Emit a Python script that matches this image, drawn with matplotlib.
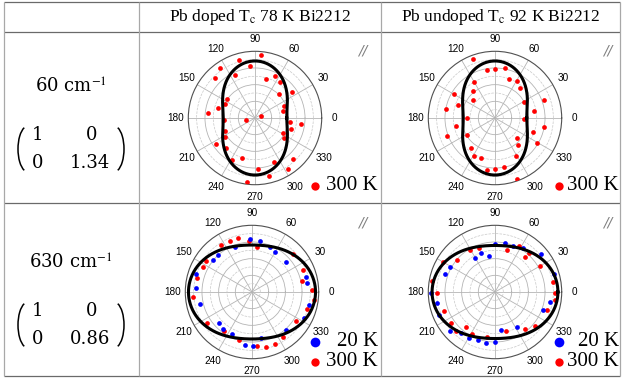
import numpy as np
import matplotlib.pyplot as plt
from matplotlib.patches import Arc
from matplotlib.ticker import FixedLocator

plt.rcParams['mathtext.fontset'] = 'stix'

# column headers and row labels
col_titles = [r"Pb doped T$_\mathrm{c}$ 78 K Bi2212", r"Pb undoped T$_\mathrm{c}$ 92 K Bi2212"]
mode_labels = [r"60 cm$^{\mathrm{-1}}$", r"630 cm$^{\mathrm{-1}}$"]
tensor_b = [1.34, 0.86]
theta_ticks = list(range(0, 360, 30))

# 60 cm-1, Pb doped, 300 K (angle in deg, normalised intensity)
doped60_ang = [85, 105, 125, 95, 135, 115, 65, 75, 55, 35, 45, 146, 155, 165, 23, 174, 13, 15, 191,
               183, 353, 353, 343, 203, 332, 213, 214, 325, 226, 313, 242, 252, 294, 303, 273, 283, 263]
doped60_int = [2.00, 1.89, 1.94, 1.63, 1.80, 1.50, 1.46, 1.28, 1.37, 1.43, 1.05, 1.06, 1.05, 1.21, 0.99,
               1.49, 0.91, 0.21, 0.28, 0.97, 1.45, 1.11, 1.17, 1.03, 1.00, 1.11, 1.49, 1.12, 1.33, 1.77,
               1.51, 1.33, 1.50, 1.92, 1.61, 1.89, 2.03]

# 60 cm-1, Pb undoped, 300 K
undoped60_ang = [110, 99, 90, 79, 120, 70, 59, 150, 129, 50, 140, 20, 161, 29, 170, 10, 181, 359, 191,
                 350, 201, 212, 339, 318, 329, 310, 231, 241, 251, 299, 261, 270, 281, 290]
undoped60_int = [1.99, 1.52, 1.55, 1.61, 1.31, 1.29, 1.35, 1.49, 1.08, 1.22, 0.90, 1.63, 1.23, 1.05, 1.56,
                 1.26, 0.87, 0.92, 1.25, 1.58, 1.62, 1.03, 1.27, 0.92, 1.53, 1.12, 1.21, 1.35, 1.33, 1.35,
                 1.65, 1.59, 1.56, 2.03]

# 630 cm-1, Pb doped
doped630_ang_300 = [104, 93, 113, 123, 84, 43, 23, 12, 353, 2, 343, 327, 304, 294, 284, 275, 255, 234,
                    215, 185, 166, 153, 146]
doped630_int_300 = [0.88, 0.81, 0.88, 0.89, 0.71, 0.88, 0.88, 0.80, 0.99, 0.94, 0.90, 0.83, 0.86, 0.90,
                    0.89, 0.85, 0.79, 0.76, 0.86, 0.93, 0.89, 0.87, 0.88]
doped630_ang_20 = [92, 81, 111, 68, 60, 41, 16, 9, 347, 333, 312, 281, 271, 262, 244, 232, 223, 193, 176,
                   162, 141, 132]
doped630_int_20 = [0.83, 0.82, 0.76, 0.77, 0.73, 0.71, 0.88, 0.87, 0.92, 0.91, 0.80, 0.73, 0.85, 0.84,
                   0.73, 0.73, 0.72, 0.84, 0.89, 0.92, 0.79, 0.79]

# 630 cm-1, Pb undoped
undoped630_ang_300 = [121, 110, 74, 62, 49, 49, 30, 10, 359, 352, 341, 320, 309, 286, 260, 241, 231, 225,
                      215, 200, 181, 170, 150, 140]
undoped630_int_300 = [0.78, 0.74, 0.69, 0.82, 0.83, 0.73, 0.82, 0.94, 0.96, 0.97, 0.87, 0.83, 0.76, 0.65,
                      0.73, 0.77, 0.72, 0.87, 0.86, 0.87, 0.92, 1.01, 0.95, 0.78]
undoped630_ang_20 = [90, 79, 69, 58, 39, 110, 100, 120, 151, 160, 181, 191, 202, 221, 230, 241, 251, 260,
                     270, 279, 302, 339, 350, 17]
undoped630_int_20 = [0.76, 0.80, 0.78, 0.83, 0.95, 0.66, 0.58, 0.62, 0.82, 0.84, 1.01, 0.94, 0.96, 0.94,
                     0.85, 0.84, 0.81, 0.82, 0.79, 0.61, 0.66, 0.82, 0.89, 0.98]

W, H = 622, 381
R = 66.7
fig = plt.figure(figsize=(W / 100, H / 100), dpi=100)

bg = fig.add_axes([0, 0, 1, 1])
bg.set_xlim(0, W)
bg.set_ylim(H, 0)
bg.axis('off')

# table grid
bg.hlines([1.5, 32, 203, 375.5], 4, 620, color='#6a6a6a', lw=0.9)
bg.vlines([4, 139, 381, 620], 1.5, 375.5, color='#a8a8a8', lw=0.9)

for x, title in zip([260, 500.5], col_titles):
    bg.text(x, 17, title, ha='center', va='center', fontsize=12.5, family='Liberation Serif')

# left column: mode label and Raman tensor
cell_font = dict(ha='center', va='center', fontsize=13, family='DejaVu Serif')
for y, lab, b in zip([87, 263], mode_labels, tensor_b):
    bg.text(71, y, lab, **cell_font)
    top, bot = y + 48, y + 76
    bg.text(38, top, "1", **cell_font)
    bg.text(92, top, "0", **cell_font)
    bg.text(38, bot, "0", **cell_font)
    bg.text(90, bot, "%.2f" % b, **cell_font)
    mid = (top + bot) / 2
    bg.add_patch(Arc((28, mid), 20, 46, theta1=100, theta2=260, color='black', lw=1.1))
    bg.add_patch(Arc((114, mid), 20, 46, theta1=-80, theta2=80, color='black', lw=1.1))


def polar_panel(cx, cy, rmax, b, series):
    ax = fig.add_axes([(cx - R) / W, (H - cy - R) / H, 2 * R / W, 2 * R / H], projection='polar')
    ax.set_ylim(0, rmax)
    ax.set_thetagrids(theta_ticks, labels=[str(t) for t in theta_ticks],
                      fontsize=7.2, family='Liberation Sans')
    ax.tick_params(axis='x', pad=-1.5)
    ax.set_yticks(rmax * np.array([0.25, 0.5, 0.75]))
    ax.set_yticklabels([])
    ax.yaxis.set_minor_locator(FixedLocator(rmax * np.array([0.125, 0.375, 0.625, 0.875])))
    ax.xaxis.grid(True, color='#b4b4b4', lw=0.6)
    ax.yaxis.grid(True, which='major', color='#b4b4b4', lw=0.6)
    ax.yaxis.grid(True, which='minor', color='#c8c8c8', lw=0.5, ls='--')
    ax.spines['polar'].set_color('#505050')
    ax.spines['polar'].set_linewidth(0.8)
    for ang, inten, col in series:
        ax.plot(np.radians(ang), inten, 'o', color=col, ms=3.4, mec='none', zorder=3)
    th = np.linspace(0, 2 * np.pi, 721)
    ax.plot(th, (np.cos(th) ** 2 + b * np.sin(th) ** 2) ** 2, color='black', lw=2.2, zorder=4)
    return ax


polar_panel(255, 118, 2.1, tensor_b[0], [(doped60_ang, doped60_int, 'red')])
polar_panel(495, 118, 2.1, tensor_b[0], [(undoped60_ang, undoped60_int, 'red')])
polar_panel(252, 292, 1.05, tensor_b[1], [(doped630_ang_300, doped630_int_300, 'red'),
                                          (doped630_ang_20, doped630_int_20, 'blue')])
polar_panel(495, 292, 1.06, tensor_b[1], [(undoped630_ang_300, undoped630_int_300, 'red'),
                                          (undoped630_ang_20, undoped630_int_20, 'blue')])

# "//" polarisation marks
for x, y in [(363, 50), (608, 50), (363, 223), (608, 223)]:
    bg.text(x, y, "//", ha='center', va='center', fontsize=10, color='#808080', style='italic')

# legends
leg_font = dict(fontsize=15, family='Liberation Serif', va='center', ha='right')
for xd, xr in [(315, 378), (559, 619)]:
    bg.plot(xd, 186, 'o', color='red', ms=6, mec='none')
    bg.text(xr, 186, "300 K", **leg_font)
    bg.plot(xd, 342, 'o', color='blue', ms=7, mec='none')
    bg.text(xr, 341, "20 K", **leg_font)
    bg.plot(xd, 362, 'o', color='red', ms=6, mec='none')
    bg.text(xr, 362, "300 K", **leg_font)

fig.savefig('out.png', dpi=100)
